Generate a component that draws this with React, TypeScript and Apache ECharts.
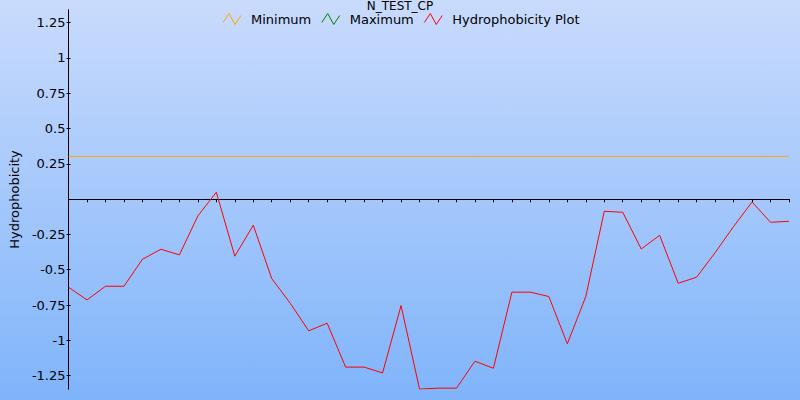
import React, { useEffect, useRef } from "react";
import * as echarts from "echarts";

const chartTitle = "N_TEST_CP";
const yAxisName = "Hydrophobicity";
const positions = Array.from({ length: 40 }, (_, i) => String(i + 1));
const hydrophobicity = [
  -0.624, -0.714, -0.617, -0.617, -0.426, -0.355, -0.395, -0.119, 0.049, -0.404,
  -0.185, -0.563, -0.737, -0.933, -0.879, -1.19, -1.19, -1.231, -0.754, -1.346,
  -1.339, -1.339, -1.148, -1.198, -0.659, -0.659, -0.69, -1.025, -0.69, -0.086,
  -0.093, -0.353, -0.256, -0.596, -0.553, -0.379, -0.194, -0.02, -0.164, -0.157,
];
const minimumValue = 0.303;
const yTickValues = [-1.25, -1, -0.75, -0.5, -0.25, 0.25, 0.5, 0.75, 1, 1.25];
const yMin = -1.345;
const yMax = 1.34;

const FONT = "DejaVu Sans";
const zig = "path://M0,9 L6,0 L12,11 L18,2";

export default function App() {
  const ref = useRef<HTMLDivElement>(null);
  useEffect(() => {
    document.body.style.margin = "0";
    const chart = echarts.init(ref.current!, null, { renderer: "svg" });
    const yAxisBase = (inside: boolean) => ({
      type: "value",
      min: yMin,
      max: yMax,
      position: "left",
      splitLine: { show: false },
      axisLine: { show: true, lineStyle: { color: "#000", width: 1 } },
      axisTick: {
        show: true,
        inside,
        length: 2,
        customValues: yTickValues,
        lineStyle: { color: "#000" },
      },
      axisLabel: {
        show: !inside,
        customValues: yTickValues,
        color: "#000",
        fontFamily: FONT,
        fontSize: 13,
        margin: 3,
      },
    });
    const xAxisBase = (inside: boolean) => ({
      type: "category",
      data: positions,
      boundaryGap: false,
      axisLine: { show: true, onZero: true, lineStyle: { color: "#000", width: 1 } },
      axisTick: { show: true, inside, length: 3, lineStyle: { color: "#000" }, interval: 0 },
      axisLabel: { show: false },
      splitLine: { show: false },
    });
    chart.setOption({
      animation: false,
      backgroundColor: new echarts.graphic.LinearGradient(0, 0, 0, 1, [
        { offset: 0, color: "#c9dbfd" },
        { offset: 1, color: "#7fb4fa" },
      ]),
      title: {
        text: chartTitle,
        left: "center",
        top: 0,
        padding: 0,
        textStyle: { fontFamily: FONT, fontSize: 12, fontWeight: "normal", color: "#000", lineHeight: 12 },
      },
      legend: {
        top: 6,
        left: "center",
        itemWidth: 18,
        itemHeight: 11,
        itemGap: 8,
        textStyle: { fontFamily: FONT, fontSize: 13, color: "#000", padding: [0, 0, 0, 5] },
        data: [
          { name: "Minimum", icon: zig, itemStyle: { color: "none", borderColor: "#ffa500", borderWidth: 1 } },
          { name: "Maximum", icon: zig, itemStyle: { color: "none", borderColor: "#008000", borderWidth: 1 } },
          { name: "Hydrophobicity Plot", icon: zig, itemStyle: { color: "none", borderColor: "#ff0000", borderWidth: 1 } },
        ],
      },
      grid: { left: 68, right: 11, top: 10, bottom: 11, containLabel: false },
      xAxis: [xAxisBase(false), xAxisBase(true)],
      yAxis: [
        {
          ...yAxisBase(false),
          name: yAxisName,
          nameLocation: "middle",
          nameGap: 47,
          nameTextStyle: { fontFamily: FONT, fontSize: 13, color: "#000" },
        },
        yAxisBase(true),
      ],
      series: [
        {
          name: "Minimum",
          type: "line",
          color: "#ffa500",
          data: positions.map(() => minimumValue),
          showSymbol: false,
          symbol: "none",
          lineStyle: { color: "#ffa500", width: 1 },
        },
        { name: "Maximum", type: "line", color: "#008000", data: [] },
        {
          name: "Hydrophobicity Plot",
          type: "line",
          color: "#ff0000",
          data: hydrophobicity,
          showSymbol: false,
          symbol: "none",
          lineStyle: { color: "#ff0000", width: 1 },
        },
      ],
    });
    return () => chart.dispose();
  }, []);
  return (
    <div
      ref={ref}
      style={{ position: "absolute", left: 0, top: 0, width: 800, height: 400 }}
    />
  );
}
